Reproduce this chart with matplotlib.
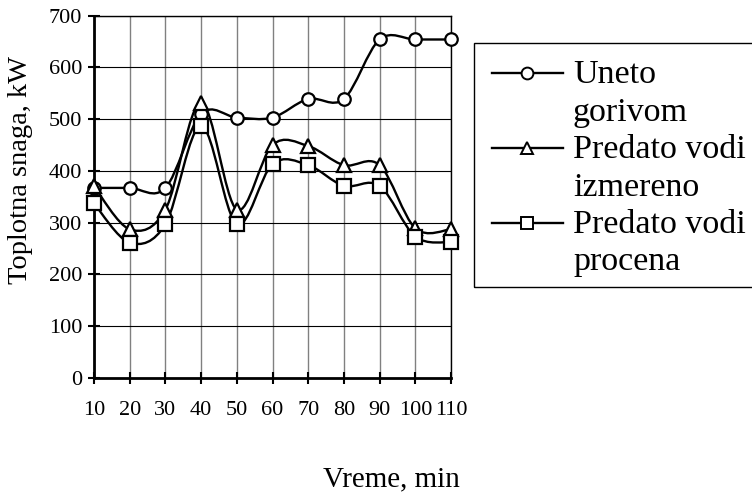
import matplotlib
matplotlib.use('Agg')
import matplotlib.pyplot as plt
from matplotlib.path import Path
from matplotlib.patches import PathPatch, Rectangle
from matplotlib.lines import Line2D

plt.rcParams['font.family'] = ['Liberation Serif', 'DejaVu Serif']

# podaci (ocitano sa grafika)
vreme = [10, 20, 30, 40, 50, 60, 70, 80, 90, 100, 110]
uneto = [367, 367, 367, 510, 503, 503, 539, 539, 654, 654, 654]
izmereno = [370, 287, 325, 532, 325, 450, 448, 411, 411, 289, 287]
procena = [337, 261, 297, 487, 297, 413, 411, 371, 371, 273, 262]

legend_lines = [['Uneto', 'gorivom'],
                ['Predato vodi', 'izmereno'],
                ['Predato vodi', 'procena']]
markers = ['o', '^', 's']

W, H = 752, 494


def smooth_path(xs, ys):
    # glatka kriva kao u Excelu (Bezier, tenzija 1/6)
    n = len(xs)
    verts = [(xs[0], ys[0])]
    codes = [Path.MOVETO]
    for i in range(n - 1):
        a = i - 1 if i > 0 else i
        b = i + 2 if i + 2 < n else i + 1
        c1 = (xs[i] + (xs[i + 1] - xs[a]) / 6, ys[i] + (ys[i + 1] - ys[a]) / 6)
        c2 = (xs[i + 1] - (xs[b] - xs[i]) / 6, ys[i + 1] - (ys[b] - ys[i]) / 6)
        verts += [c1, c2, (xs[i + 1], ys[i + 1])]
        codes += [Path.CURVE4] * 3
    return Path(verts, codes)


fig = plt.figure(figsize=(W / 100, H / 100), dpi=100)
ax = fig.add_axes([94 / W, 1 - 377.7 / H, (451 - 94) / W, (377.7 - 15.7) / H])

ax.set_xlim(10, 110)
ax.set_ylim(0, 700)
ax.set_xticks(vreme)
ax.set_yticks(range(0, 701, 100))

for x in vreme:
    ax.axvline(x, color='#808080', lw=1.0, zorder=0)
for y in range(100, 701, 100):
    ax.axhline(y, color='black', lw=0.8, zorder=0)

for serija, m in zip([uneto, izmereno, procena], markers):
    ax.add_patch(PathPatch(smooth_path(vreme, serija), fill=False, lw=1.7,
                           edgecolor='black', clip_on=False, zorder=2))
    ms = 9 if m == 'o' else 10
    ax.plot(vreme, serija, linestyle='none', marker=m, ms=ms, mfc='white',
            mec='black', mew=1.6, clip_on=False, zorder=3)

for s in ['left', 'bottom']:
    ax.spines[s].set_linewidth(2.0)
for s in ['top', 'right']:
    ax.spines[s].set_linewidth(1.0)

ax.tick_params(axis='both', direction='inout', length=9, width=1.5, labelsize=16)
ax.tick_params(axis='y', pad=4)
ax.tick_params(axis='x', pad=12)

fig.text(21 / W, 1 - 170 / H, 'Toplotna snaga, kW', rotation=90,
         ha='center', va='center', fontsize=20.5)
fig.text(391 / W, 1 - 486 / H, 'Vreme, min', ha='center', va='baseline',
         fontsize=21)

# legenda
fig.patches.append(Rectangle((474 / W, 1 - 287 / H), 300 / W, (287 - 42.7) / H,
                             transform=fig.transFigure, fill=False,
                             edgecolor='black', lw=1.0))
for k, (linije, m) in enumerate(zip(legend_lines, markers)):
    yb1 = 83.3 + 2 * k * 37.4
    ym = yb1 - 10
    fig.lines.append(Line2D([492 / W, 563 / W], [1 - ym / H, 1 - ym / H],
                            transform=fig.transFigure, color='black', lw=1.7))
    fig.lines.append(Line2D([527 / W], [1 - ym / H], transform=fig.transFigure,
                            marker=m, ms=8.5, mfc='white', mec='black', mew=1.4))
    for j, t in enumerate(linije):
        fig.text(573 / W, 1 - (yb1 + j * 37.4) / H, t, ha='left',
                 va='baseline', fontsize=24.5)

fig.savefig('out.png', dpi=100)
